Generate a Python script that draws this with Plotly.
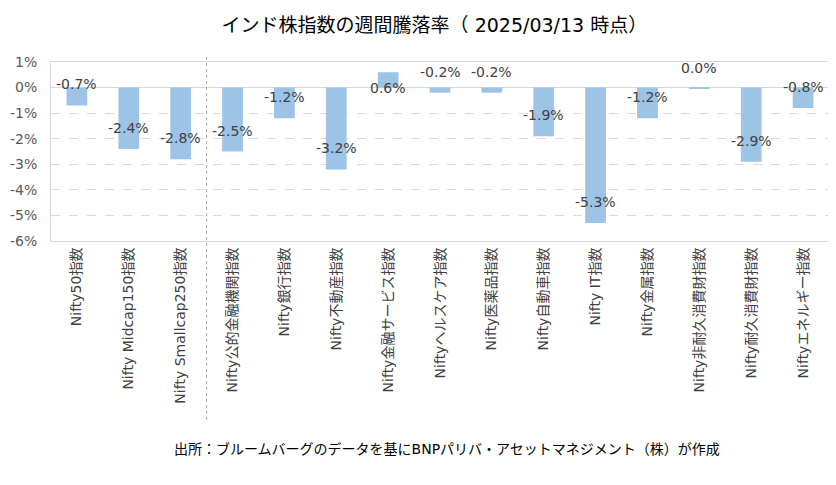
# Weekly change of Indian equity indices (as of 2025/03/13)
import plotly.graph_objects as go

# -----------------------------------------------------------------------------
# DATA
categories = [
    'Nifty50指数', 'Nifty Midcap150指数', 'Nifty Smallcap250指数',
    'Nifty公的金融機関指数', 'Nifty銀行指数', 'Nifty不動産指数',
    'Nifty金融サービス指数', 'Niftyヘルスケア指数', 'Nifty医薬品指数',
    'Nifty自動車指数', 'Nifty IT指数', 'Nifty金属指数',
    'Nifty非耐久消費財指数', 'Nifty耐久消費財指数', 'Niftyエネルギー指数',
]
weekly_change = [-0.7, -2.4, -2.8, -2.5, -1.2, -3.2, 0.6, -0.2, -0.2,
                 -1.9, -5.3, -1.2, -0.04, -2.9, -0.8]  # [%]
n_broad = 3  # broad market indices, then sector indices

y_ticks = [1, 0, -1, -2, -3, -4, -5, -6]
y_tick_labels = ['1%', '0%', '-1%', '-2%', '-3%', '-4%', '-5%', '-6%']

title = 'インド株指数の週間騰落率（ 2025/03/13 時点）'
source = '出所：ブルームバーグのデータを基にBNPパリバ・アセットマネジメント（株）が作成'

# -----------------------------------------------------------------------------
# STYLE
font_jp = 'DejaVu Sans, Noto Sans CJK JP'
bar_color = '#9DC3E6'
grid_color = '#D9D9D9'
text_color = '#404040'


def fmt(v):
    s = f'{v:.1f}%'
    return '0.0%' if s == '-0.0%' else s


# -----------------------------------------------------------------------------
# PLOTTING
# (page body has an 8px margin, so the figure is 8px smaller than the window)
fig = go.Figure()
fig.add_trace(go.Bar(x=categories, y=weekly_change, marker_color=bar_color,
                     marker_line_width=0, width=0.4, hoverinfo='x+y'))

# data labels (Excel style: placed above the bar end)
for cat, v in zip(categories, weekly_change):
    fig.add_annotation(x=cat, y=v, text=fmt(v), showarrow=False,
                       yshift=21 if v <= 0 else -16,
                       font=dict(family=font_jp, size=14, color=text_color))

# separator between broad market and sector indices
fig.add_shape(type='line', xref='x', yref='paper',
              x0=n_broad - 0.5, x1=n_broad - 0.5, y0=-1.0, y1=1.04,
              line=dict(color='#A6A6A6', width=1, dash='3px,3px'))

fig.add_annotation(text=source, xref='paper', yref='paper', x=0.509, y=-1.22,
                   showarrow=False,
                   font=dict(family=font_jp, size=14, color='#000000'))

fig.update_layout(
    width=828, height=477,
    margin=dict(l=43, r=7, t=54, b=244),
    paper_bgcolor='white', plot_bgcolor='white',
    showlegend=False,
    title=dict(text=title, x=0.515, xanchor='center', y=0.964, yanchor='middle',
               font=dict(family=font_jp, size=19, color='#000000')),
    font=dict(family=font_jp),
)
fig.update_xaxes(tickangle=-90, showline=True, mirror=True, linecolor=grid_color,
                 ticks='', tickfont=dict(family=font_jp, size=14, color=text_color))
fig.update_yaxes(range=[-6, 1], tickvals=y_ticks, ticktext=y_tick_labels,
                 showgrid=True, gridcolor=grid_color, griddash='dash',
                 zeroline=True, zerolinecolor=grid_color, zerolinewidth=1,
                 showline=True, mirror=True, linecolor=grid_color,
                 ticklabelstandoff=10, automargin=False,
                 tickfont=dict(family=font_jp, size=14, color='#595959'))

fig.write_html('out.html')
